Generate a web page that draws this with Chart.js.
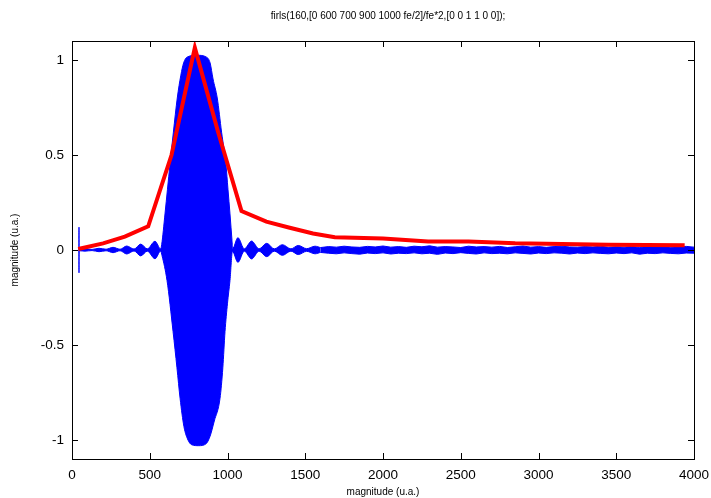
<!DOCTYPE html>
<html>
<head>
<meta charset="utf-8">
<script src="https://cdn.jsdelivr.net/npm/chart.js@4"></script>
<style>
html, body { margin: 0; padding: 0; background: #fff; }
</style>
</head>
<body>
<canvas id="firlsChart" width="711" height="498"></canvas>
<script>
// tick labels
const xTicks = [0, 500, 1000, 1500, 2000, 2500, 3000, 3500, 4000]
const yTicks = [-1, -0.5, 0, 0.5, 1]

// red curve (filter magnitude)
const redX = [40, 200, 340, 490, 640, 790, 940, 1090, 1250, 1400, 1550, 1690, 2000, 2290, 2550, 2850, 3150, 3450, 3940]
const redY = [0.005, 0.035, 0.07, 0.125, 0.5, 1.065, 0.62, 0.205, 0.149, 0.117, 0.087, 0.067, 0.061, 0.045, 0.045, 0.035, 0.032, 0.028, 0.025]

// blue signal, upper envelope (spike + lobes)
const upX = [44, 45, 46, 84, 129, 174, 219, 264, 309, 352, 399, 442, 484, 534, 570, 577, 598, 630, 652, 677, 700, 718, 740, 805, 865, 888, 907, 934, 962, 990, 1003, 1016, 1029, 1033, 1067, 1108, 1155, 1203, 1252, 1301, 1353, 1408, 1455, 1509, 1563, 1600]
const upY = [0, 0.12, 0.004, 0.006, 0.003, 0.009, 0.004, 0.014, 0.004, 0.021, 0.005, 0.031, 0.006, 0.046, 0.006, 0.03, 0.19, 0.45, 0.62, 0.8, 0.92, 0.985, 1.015, 1.025, 1.015, 0.985, 0.9, 0.8, 0.62, 0.45, 0.32, 0.19, 0.05, 0.008, 0.065, 0.006, 0.047, 0.006, 0.035, 0.006, 0.028, 0.006, 0.024, 0.007, 0.02, 0.012]

// blue signal, lower envelope
const lowX = [44, 45, 46, 84, 129, 174, 219, 264, 309, 352, 399, 442, 484, 534, 570, 579, 611, 650, 675, 695, 720, 746, 770, 815, 862, 888, 915, 952, 970, 984, 1000, 1016, 1032, 1067, 1108, 1155, 1203, 1252, 1301, 1353, 1408, 1455, 1509, 1563, 1600]
const lowY = [0, -0.12, -0.004, -0.006, -0.003, -0.009, -0.004, -0.014, -0.004, -0.021, -0.005, -0.031, -0.006, -0.046, -0.006, -0.03, -0.16, -0.43, -0.62, -0.78, -0.93, -1.0, -1.025, -1.03, -1.02, -0.98, -0.9, -0.78, -0.62, -0.43, -0.28, -0.16, -0.008, -0.065, -0.006, -0.047, -0.006, -0.035, -0.006, -0.028, -0.006, -0.024, -0.007, -0.02, -0.012]

// blue signal, noisy tail
const noiseX = [1600, 1650, 1700, 1750, 1800, 1850, 1900, 1950, 2000, 2050, 2100, 2150, 2200, 2250, 2300, 2350, 2400, 2450, 2500, 2550, 2600, 2650, 2700, 2750, 2800, 2850, 2900, 2950, 3000, 3050, 3100, 3150, 3200, 3250, 3300, 3350, 3400, 3450, 3500, 3550, 3600, 3650, 3700, 3750, 3800, 3850, 3900, 3950, 4000]
const noiseUp = [0.013, 0.018, 0.015, 0.02, 0.016, 0.014, 0.019, 0.016, 0.021, 0.015, 0.018, 0.014, 0.02, 0.017, 0.022, 0.015, 0.018, 0.016, 0.013, 0.02, 0.016, 0.018, 0.015, 0.019, 0.013, 0.017, 0.021, 0.015, 0.018, 0.014, 0.018, 0.02, 0.016, 0.015, 0.018, 0.016, 0.02, 0.014, 0.017, 0.015, 0.019, 0.013, 0.018, 0.016, 0.02, 0.015, 0.017, 0.019, 0.015]
const noiseLow = [-0.013, -0.017, -0.02, -0.015, -0.019, -0.022, -0.016, -0.019, -0.015, -0.021, -0.017, -0.019, -0.015, -0.02, -0.017, -0.023, -0.016, -0.019, -0.014, -0.018, -0.021, -0.015, -0.019, -0.017, -0.02, -0.015, -0.018, -0.021, -0.016, -0.019, -0.015, -0.017, -0.021, -0.016, -0.019, -0.015, -0.018, -0.02, -0.016, -0.019, -0.015, -0.022, -0.017, -0.019, -0.015, -0.018, -0.02, -0.016, -0.017]

const chartTitle = 'firls(160,[0 600 700 900 1000 fe/2]/fe*2,[0 0 1 1 0 0]);'
const fontFamily = '"Liberation Sans", Arial, sans-serif'

function pts(xs, ys) {
    return xs.map((x, i) => ({x: x, y: ys[i]}))
}

const blue = {
    borderColor: '#0000ff',
    backgroundColor: '#0000ff',
    borderWidth: 1,
    pointRadius: 0,
    order: 1
}

// gnuplot style box with inward ticks on all sides, plus the top title
const framePlugin = {
    id: 'frame',
    afterDraw(chart) {
        const ctx = chart.ctx
        const a = chart.chartArea
        const xs = chart.scales.x
        const ys = chart.scales.y
        const tl = 6
        ctx.save()
        ctx.strokeStyle = '#000'
        ctx.lineWidth = 1
        ctx.strokeRect(a.left + 0.5, a.top + 0.5, a.right - a.left, a.bottom - a.top)
        ctx.beginPath()
        xTicks.forEach(v => {
            const px = Math.round(xs.getPixelForValue(v)) + 0.5
            ctx.moveTo(px, a.bottom); ctx.lineTo(px, a.bottom - tl)
            ctx.moveTo(px, a.top); ctx.lineTo(px, a.top + tl)
        })
        yTicks.forEach(v => {
            const py = Math.round(ys.getPixelForValue(v)) + 0.5
            ctx.moveTo(a.left, py); ctx.lineTo(a.left + tl, py)
            ctx.moveTo(a.right, py); ctx.lineTo(a.right - tl, py)
        })
        ctx.stroke()
        ctx.fillStyle = '#000'
        ctx.font = '10px ' + fontFamily
        ctx.textAlign = 'center'
        ctx.textBaseline = 'middle'
        ctx.fillText(chartTitle, 388, 16)
        ctx.restore()
    }
}

new Chart(document.getElementById('firlsChart'), {
    type: 'line',
    data: {
        datasets: [
            {label: 'firls', data: pts(redX, redY), borderColor: '#ff0000', borderWidth: 4, pointRadius: 0, fill: false, order: 0},
            Object.assign({label: 'sig+', data: pts(upX, upY), fill: '+1', cubicInterpolationMode: 'monotone'}, blue),
            Object.assign({label: 'sig-', data: pts(lowX, lowY), fill: false, cubicInterpolationMode: 'monotone'}, blue),
            Object.assign({label: 'noise+', data: pts(noiseX, noiseUp), fill: '+1'}, blue),
            Object.assign({label: 'noise-', data: pts(noiseX, noiseLow), fill: false}, blue)
        ]
    },
    options: {
        responsive: false,
        animation: false,
        layout: {padding: {top: 41, right: 17, left: 0, bottom: 0}},
        plugins: {
            legend: {display: false},
            tooltip: {enabled: false},
            title: {display: false}
        },
        scales: {
            x: {
                type: 'linear',
                min: 0,
                max: 4000,
                afterBuildTicks: s => { s.ticks = xTicks.map(v => ({value: v})) },
                afterFit: s => { s.height = 39; s.paddingLeft = 0; s.paddingRight = 0 },
                grid: {display: false, drawTicks: false},
                border: {display: false},
                ticks: {color: '#000', font: {family: fontFamily, size: 13.5}, padding: 8, maxRotation: 0, autoSkip: false, callback: v => String(v)},
                title: {display: true, text: 'magnitude (u.a.)', color: '#000', font: {family: fontFamily, size: 10}, padding: {top: 0, bottom: 0}}
            },
            y: {
                type: 'linear',
                min: -1.1,
                max: 1.1,
                afterBuildTicks: s => { s.ticks = yTicks.map(v => ({value: v})) },
                afterFit: s => { s.width = 72; s.paddingTop = 0; s.paddingBottom = 0 },
                grid: {display: false, drawTicks: false},
                border: {display: false},
                ticks: {color: '#000', font: {family: fontFamily, size: 13.5}, padding: 8, callback: v => String(v)},
                title: {display: true, text: 'magnitude (u.a.)', color: '#000', font: {family: fontFamily, size: 10}, padding: {top: 9, bottom: 0}}
            }
        }
    },
    plugins: [framePlugin]
})
</script>
</body>
</html>
